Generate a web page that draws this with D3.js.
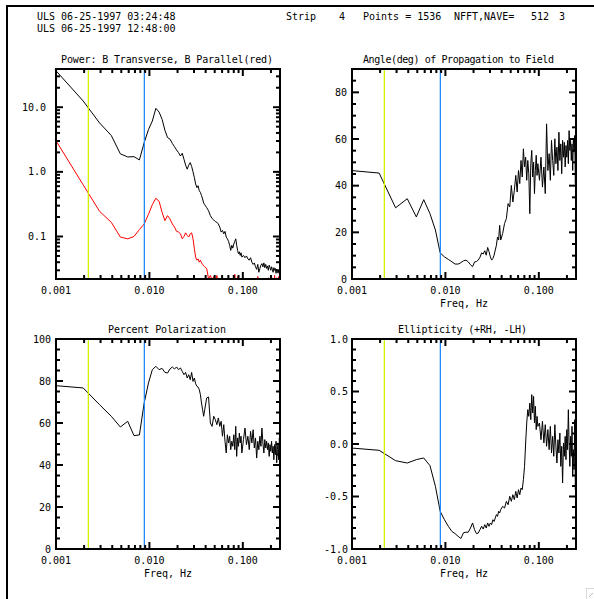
<!DOCTYPE html>
<html>
<head>
<meta charset="utf-8">
<script src="https://cdn.jsdelivr.net/npm/d3@7"></script>
<style>
  html, body { margin: 0; padding: 0; background: #fff; overflow: hidden; }
  svg { display: block; }
  svg text { font-family: "DejaVu Sans Mono", monospace; font-size: 10px; fill: #000; }
</style>
</head>
<body>
<div id="chart"></div>
<script>
// FFT bins shown (NFFT 512, 2 s sampling -> 1/1024 Hz per bin)
const bins = [1,2,3,4,5,6,7,8,9,10,11,12,13,14,15,16,17,18,19,20,
  21,22,23,24,25,26,27,28,29,30,31,32,33,34,35,36,37,38,39,40,
  42,44,46,48,50,52,54,56,58,60,62,64,66,68,70,72,74,76,78,80,
  82,84,86,88,90,92,94,96,98,100,
  104,108,112,116,120,124,128,132,136,140,144,148,152,156,160,164,168,172,176,180,
  184,188,192,196,200,204,208,212,216,220,224,228,232,236,240,244,248,252,256];
const binWidth = 1 / 1024;

// Power, B transverse (black)
const powerTrans = [38,12.5,5.7,3.66,1.9,1.7,1.72,1.53,2.83,4.5,6.1,9.6,8.4,6.5,4.4,3.4,3.2,2.76,2.45,2.18,
  1.98,1.76,1.94,1.57,1.27,1.1,1.27,1.39,1.21,1.0,0.82,0.65,0.57,0.61,0.51,0.48,0.43,0.38,0.33,0.31,
  0.28,0.25,0.21,0.19,0.18,0.17,0.166,0.156,0.14,0.117,0.124,0.11,0.12,0.098,0.092,0.084,0.073,0.061,0.073,0.066,
  0.077,0.084,0.092,0.073,0.061,0.054,0.058,0.051,0.056,0.048,
  0.051,0.047,0.05,0.045,0.043,0.047,0.04,0.037,0.039,0.034,0.031,0.037,0.028,0.032,0.036,0.038,0.034,0.039,0.033,0.037,
  0.032,0.035,0.030,0.036,0.033,0.030,0.034,0.031,0.028,0.033,0.030,0.032,0.027,0.031,0.029,0.027,0.030,0.028,0.029];

// Power, B parallel (red)
const powerPar = [3.2,0.63,0.245,0.166,0.098,0.092,0.1,0.128,0.156,0.22,0.31,0.39,0.35,0.237,0.176,0.21,0.187,0.156,0.14,0.12,
  0.117,0.11,0.092,0.1,0.114,0.104,0.098,0.11,0.114,0.092,0.065,0.048,0.043,0.045,0.04,0.043,0.039,0.037,0.035,0.034,
  0.032,0.022,0.025,0.021,0.024,0.019,0.025,0.018,0.021,0.017,0.022,0.018,0.016,0.02,0.017,0.015,0.019,0.016,0.014,0.018,
  0.015,0.026,0.017,0.014,0.024,0.016,0.013,0.018,0.015,0.013,
  0.015,0.013,0.017,0.014,0.012,0.016,0.013,0.015,0.012,0.014,0.016,0.024,0.013,0.015,0.012,0.014,0.017,0.013,0.015,0.012,
  0.016,0.014,0.023,0.013,0.015,0.012,0.024,0.014,0.017,0.013,0.025,0.015,0.014,0.023,0.016,0.013,0.024,0.015,0.022];

// Angle of propagation to field, degrees
const angle = [46.5,45.4,30.5,34.4,26.6,34,28,21,11.2,9.5,8.4,7.4,6.4,6.4,7,7.8,8.1,7.3,6.1,5.3,
  7.3,7.5,8.1,9.3,11.2,10.7,12.1,10.2,13.5,11.7,9.5,8.1,8.8,10.2,12.4,14.5,18,16.7,23,16.7,
  19.5,23.8,25.9,32.3,30.9,40.1,33,38,44.4,37.3,46.5,40.9,50.8,43.7,55.8,48,52.2,42.3,50.8,45.1,
  28,49.4,55.1,43.7,50.1,36.6,46.5,53,44.4,49.4,
  42.3,52.2,39.4,48,36.6,66.5,46.5,53.7,42.3,59.4,50.8,44.4,60.1,49.4,56.5,46.5,62.9,50.8,57.9,45.1,
  59.4,52.2,58.6,48,57.2,52.2,59.4,49.4,63.6,55.1,59.4,50.8,57.9,46.5,60.1,54.4,61.5,40.9,56.5];

// Percent polarization
const polarization = [77.8,76.7,68.7,63.2,58.1,60.8,54,54.3,69.5,79,85.4,87,85.4,86,84.1,83.8,85.7,86.7,85.7,86.7,
  85.4,86.2,84.6,83,84.1,81.4,83,80.6,84.1,79.8,81.4,78.7,77.5,77.1,75.9,73.5,69.5,66.3,63.2,66.3,
  71.9,72.4,60,58.4,63.2,61.6,59.2,62.4,58.4,60.8,53.7,59.2,51.3,45.7,54.4,50.5,53.7,47.3,51.3,48.9,
  54.4,47.3,58.4,44.1,52.9,48.9,55.2,50.5,53.7,45.7,
  52.1,57.6,49.7,53.7,47.3,56,50.5,56.8,48.1,52.9,43.3,51.3,47.3,53.7,48.9,57.6,50.5,45.7,52.1,48.1,
  51.3,47.3,50.5,44.1,49.7,46.5,51.3,45.7,48.9,42.5,49.7,44.9,51.3,41,47.3,50.5,42.5,52.9,45.7];

// Ellipticity (+RH, -LH)
const ellipticity = [-0.038,-0.06,-0.159,-0.181,-0.149,-0.133,-0.206,-0.403,-0.641,-0.721,-0.784,-0.832,-0.854,-0.879,-0.9,-0.845,-0.84,-0.84,-0.8,-0.752,
  -0.816,-0.854,-0.848,-0.816,-0.784,-0.81,-0.768,-0.8,-0.752,-0.784,-0.752,-0.768,-0.721,-0.737,-0.705,-0.673,-0.689,-0.641,-0.657,-0.625,
  -0.594,-0.61,-0.546,-0.578,-0.498,-0.546,-0.483,-0.53,-0.451,-0.514,-0.435,-0.483,-0.419,-0.435,-0.34,-0.213,0.01,0.2,0.327,0.263,
  0.39,0.232,0.47,0.295,0.454,0.2,0.359,0.137,0.263,0.168,
  0.2,0.041,0.216,0.01,0.184,-0.022,0.137,-0.054,0.168,-0.086,0.073,-0.117,0.184,-0.022,-0.181,0.041,-0.086,0.105,-0.213,-0.022,
  -0.371,0.01,-0.117,0.073,-0.149,0.137,-0.054,0.327,0.01,-0.213,0.073,-0.117,0.168,-0.308,-0.054,-0.244,0.232,-0.435,-0.149];

// marker frequencies (yellow, blue)
const markerFreqs = [0.00222, 0.00883];
const markerColors = ["#d2f000", "#1a8cff"];

// tick labels
const freqTicks = [0.001, 0.01, 0.1];
const freqTickLabels = ["0.001", "0.010", "0.100"];
const powerTicks = [0.1, 1, 10];
const powerTickLabels = ["0.1", "1.0", "10.0"];
const angleTicks = [0, 20, 40, 60, 80];
const polTicks = [0, 20, 40, 60, 80, 100];
const ellTicks = [-1, -0.5, 0, 0.5, 1];
const ellTickLabels = ["-1.0", "-0.5", "0.0", "0.5", "1.0"];

const freq = bins.map(k => k * binWidth);

const svg = d3.select("#chart").append("svg")
    .attr("width", 594)
    .attr("height", 599);

const PW = 224, PH = 210;
const MAJOR = 7, MINOR = 4;
const freqMinor = [0.001, 0.01, 0.1].flatMap(d => d3.range(2, 10).map(m => m * d)).filter(f => f < 0.25);

const panels = [
  { left: 56, top: 69, title: "Power: B Transverse, B Parallel(red)", titleX: 61, titleW: 212,
    log: true, yDomain: [0.022, 39], ticks: powerTicks, labels: powerTickLabels,
    minor: [0.01, 0.1, 1, 10].flatMap(d => d3.range(2, 10).map(m => m * d)).filter(v => v > 0.022 && v < 39),
    pad: 10, xTitle: false,
    series: [{ values: powerTrans, color: "#000" }, { values: powerPar, color: "#ff0000" }] },
  { left: 352, top: 69, title: "Angle(deg) of Propagation to Field", titleX: 363, titleW: 191,
    log: false, yDomain: [0, 90], ticks: angleTicks, labels: angleTicks.map(String),
    minor: d3.range(5, 90, 5).filter(v => v % 20 !== 0), pad: 5, xTitle: true,
    series: [{ values: angle, color: "#000" }] },
  { left: 56, top: 339, title: "Percent Polarization", titleX: 108, titleW: 118,
    log: false, yDomain: [0, 100], ticks: polTicks, labels: polTicks.map(String),
    minor: d3.range(5, 100, 5).filter(v => v % 20 !== 0), pad: 5, xTitle: true,
    series: [{ values: polarization, color: "#000" }] },
  { left: 352, top: 339, title: "Ellipticity (+RH, -LH)", titleX: 398, titleW: 129,
    log: false, yDomain: [-1, 1], ticks: ellTicks, labels: ellTickLabels,
    minor: d3.range(-9, 10).filter(v => v % 5 !== 0).map(v => v / 10), pad: 4, xTitle: true,
    series: [{ values: ellipticity, color: "#000" }] }
];

// tick segments in page coordinates, drawn last on top of everything
const tickSegs = [];

panels.forEach(p => {
  const g = svg.append("g").attr("transform", `translate(${p.left},${p.top})`);

  const x = d3.scaleLog().domain([0.001, 0.25]).range([0, PW]);
  const y = (p.log ? d3.scaleLog() : d3.scaleLinear()).domain(p.yDomain).range([PH, 0]);

  const line = d3.line()
    .x((d, i) => x(freq[i]))
    .y(d => y(d));

  p.series.forEach(s => {
    g.append("path")
      .datum(s.values)
      .attr("fill", "none")
      .attr("stroke", s.color)
      .attr("stroke-width", 1)
      .attr("d", line);
  });

  // hide whatever falls under the bottom of the box (parallel power)
  g.append("rect")
    .attr("x", -3).attr("y", PH + 1)
    .attr("width", PW + 6).attr("height", 30)
    .attr("fill", "#fff");

  // marker lines
  markerFreqs.forEach((f, i) => {
    g.append("line")
      .attr("x1", x(f)).attr("x2", x(f))
      .attr("y1", 0).attr("y2", PH)
      .attr("stroke", markerColors[i])
      .attr("stroke-width", 1.3);
  });

  // box
  g.append("rect")
    .attr("width", PW).attr("height", PH)
    .attr("fill", "none").attr("stroke", "#000").attr("stroke-width", 2);

  // inward ticks on all four sides
  const xt = freqTicks.map(v => [x(v), MAJOR]).concat(freqMinor.map(v => [x(v), MINOR]));
  const yt = p.ticks.map(v => [y(v), MAJOR]).concat(p.minor.map(v => [y(v), MINOR]));
  xt.forEach(([px, len]) => {
    tickSegs.push([p.left + px, p.top + PH, p.left + px, p.top + PH - len]);
    tickSegs.push([p.left + px, p.top, p.left + px, p.top + len]);
  });
  yt.forEach(([py, len]) => {
    tickSegs.push([p.left, p.top + py, p.left + len, p.top + py]);
    tickSegs.push([p.left + PW, p.top + py, p.left + PW - len, p.top + py]);
  });

  // tick labels
  g.append("g").selectAll("text")
    .data(freqTicks)
    .join("text")
      .attr("x", d => x(d))
      .attr("y", PH + 14.5)
      .attr("text-anchor", "middle")
      .text((d, i) => freqTickLabels[i]);

  g.append("g").selectAll("text")
    .data(p.ticks)
    .join("text")
      .attr("x", -p.pad)
      .attr("y", d => y(d))
      .attr("dy", "0.36em")
      .attr("text-anchor", "end")
      .text((d, i) => p.labels[i]);

  // titles
  g.append("text")
    .attr("x", p.titleX - p.left).attr("y", -6)
    .attr("textLength", p.titleW).attr("lengthAdjust", "spacing")
    .text(p.title);

  if (p.xTitle) {
    g.append("text")
      .attr("x", PW / 2).attr("y", PH + 27.5)
      .attr("text-anchor", "middle")
      .text("Freq, Hz");
  }
});

// window frame
svg.append("rect").attr("x", 6).attr("y", 5).attr("width", 588).attr("height", 2).attr("fill", "#000");
svg.append("rect").attr("x", 6).attr("y", 5).attr("width", 2).attr("height", 594).attr("fill", "#000");
svg.append("rect").attr("x", 586.5).attr("y", 588.5).attr("width", 9).attr("height", 12)
    .attr("fill", "none").attr("stroke", "#d8d8d8");
svg.append("line").attr("x1", 589).attr("y1", 597).attr("x2", 593).attr("y2", 593)
    .attr("stroke", "#bbb");

// header
svg.append("text").attr("x", 37).attr("y", 20).text("ULS 06-25-1997 03:24:48");
svg.append("text").attr("x", 37).attr("y", 32).text("ULS 06-25-1997 12:48:00");
[["Strip", 286], ["4", 339], ["Points = 1536", 363], ["NFFT,NAVE=", 454], ["512", 531], ["3", 559]]
  .forEach(([t, hx]) => svg.append("text").attr("x", hx).attr("y", 20).text(t));

// all tick marks, on top
svg.append("g").attr("class", "ticks")
  .selectAll("line")
  .data(tickSegs)
  .join("line")
    .attr("x1", d => d[0]).attr("y1", d => d[1])
    .attr("x2", d => d[2]).attr("y2", d => d[3])
    .attr("stroke", "#000")
    .attr("stroke-width", 2);
</script>
</body>
</html>
